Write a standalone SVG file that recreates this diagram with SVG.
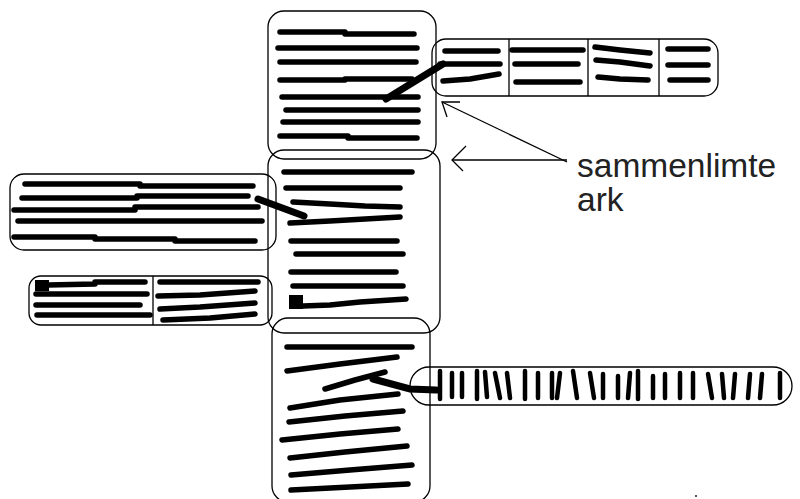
<svg xmlns="http://www.w3.org/2000/svg" width="800" height="499" viewBox="0 0 800 499">
<style>
.sheet{fill:none;stroke:#000;stroke-width:1.3}
.div{stroke:#000;stroke-width:1.3}
.tl{fill:none;stroke:#000;stroke-width:5.5;stroke-linecap:round;stroke-linejoin:round}
.vm{fill:none;stroke:#000;stroke-width:4.5;stroke-linecap:round}
.glue{fill:none;stroke:#000;stroke-width:7;stroke-linecap:round}
.arr{fill:none;stroke:#000;stroke-width:1.3}
.lbl{font-family:"Liberation Sans",Arial,sans-serif;font-size:33.5px;fill:#222}
</style>
<rect width="800" height="499" fill="#fff"/>
<g id="sheet-top">
<rect class="sheet" x="268" y="11" width="168" height="148" rx="16"/>
<path class="tl" d="M280 32 H345 V34 H414"/>
<path class="tl" d="M278 48 H417"/>
<path class="tl" d="M280 62 H416"/>
<path class="tl" d="M280 80 H345 V79 H412"/>
<path class="tl" d="M282 97 H418"/>
<path class="tl" d="M286 110 H418"/>
<path class="tl" d="M283 122 H418"/>
<path class="tl" d="M280 136 H348 V138 H417"/>
</g>
<g id="sheet-top-right">
<rect class="sheet" x="432" y="39" width="286" height="57" rx="14"/>
<line class="div" x1="509" y1="39" x2="509" y2="96"/>
<line class="div" x1="588" y1="39" x2="588" y2="96"/>
<line class="div" x1="659" y1="39" x2="659" y2="96"/>
<path class="tl" d="M445 51 H498"/>
<path class="tl" d="M440 64 H500"/>
<path class="tl" d="M443 81 L470 79 L499 74"/>
<path class="tl" d="M512 50 H583"/>
<path class="tl" d="M515 64 H578"/>
<path class="tl" d="M516 82 H580"/>
<path class="tl" d="M595 47 L620 50 L650 53"/>
<path class="tl" d="M596 60 L620 62 L650 66"/>
<path class="tl" d="M598 77 L620 79 L648 80"/>
<path class="tl" d="M668 49 H708"/>
<path class="tl" d="M668 65 H708"/>
<path class="tl" d="M670 80 H708"/>
</g>
<g id="sheet-middle">
<rect class="sheet" x="268" y="150" width="172" height="183" rx="16"/>
<path class="tl" d="M284 172 H412"/>
<path class="tl" d="M286 188 H400"/>
<path class="tl" d="M293 202 L330 204 L365 206 L400 207"/>
<path class="tl" d="M290 223 L330 221 L365 219 L400 217"/>
<path class="tl" d="M291 241 H397"/>
<path class="tl" d="M296 254 H403"/>
<path class="tl" d="M291 272 H396"/>
<path class="tl" d="M293 286 H403"/>
<path class="tl" d="M303 306 L330 305 L360 302 L406 299"/>
<rect x="289" y="295" width="14" height="14" fill="#000"/>
</g>
<g id="sheet-bottom">
<rect class="sheet" x="272" y="318" width="158" height="184" rx="16"/>
<path class="tl" d="M287 347 H412"/>
<path class="tl" d="M287 371 L340 364 L397 357"/>
<path class="tl" d="M325 389 L355 380 L385 372"/>
<path class="tl" d="M290 408 L340 400 L398 394"/>
<path class="tl" d="M289 422 L345 416 L403 411"/>
<path class="tl" d="M282 440 L340 434 L398 429"/>
<path class="tl" d="M290 458 L345 452 L407 446"/>
<path class="tl" d="M291 475 L350 470 L412 465"/>
<path class="tl" d="M291 490 L350 487 L408 484"/>
</g>
<g id="sheet-left">
<rect class="sheet" x="10" y="174" width="266" height="76" rx="14"/>
<path class="tl" d="M25 184 H140 V186 H253"/>
<path class="tl" d="M22 198 H137 V196 H248"/>
<path class="tl" d="M14 210 H135 V207 H258"/>
<path class="tl" d="M18 221 H262"/>
<path class="tl" d="M14 237 H95 V239 H175 V241 H255"/>
</g>
<g id="sheet-left-small">
<rect class="sheet" x="29" y="276" width="243" height="49" rx="12"/>
<line class="div" x1="153" y1="276" x2="153" y2="325"/>
<rect x="35" y="280" width="14" height="11" fill="#000"/>
<path class="tl" d="M48 285 L95 284 V282 H145"/>
<path class="tl" d="M36 294 H147"/>
<path class="tl" d="M36 305 H140"/>
<path class="tl" d="M37 315 H150"/>
<path class="tl" d="M160 282 H258"/>
<path class="tl" d="M158 296 L200 295 L255 291"/>
<path class="tl" d="M160 309 L200 307 L255 303"/>
<path class="tl" d="M163 320 L210 318 L255 314"/>
</g>
<g id="sheet-bottom-right">
<rect class="sheet" x="410" y="367" width="382" height="38" rx="19"/>
<path class="vm" d="M440 371 V399 M452 373 V397 M462 373 V397 M477 371 V399 M485 372 L487 397 M495 373 L500 398 M507 373 L510 398 M525 371 V399 M538 373 V398 M552 373 V398 M560 373 L557 398 M573 371 L577 398 M590 373 L594 398 M603 374 V398 M618 376 V398 M630 373 L628 398 M638 371 V399 M653 376 V398 M665 374 V398 M680 373 V398 M693 373 V398 M708 374 L712 398 M722 374 L724 398 M735 374 L733 398 M750 374 L748 398 M762 374 L760 398 M780 373 V398"/>
</g>
<g id="connectors">
<line class="glue" x1="386" y1="99" x2="443" y2="64"/>
<line class="glue" x1="258" y1="199" x2="304" y2="216"/>
<path class="glue" d="M373 379 L410 389 L436 390"/>
<line class="arr" x1="567" y1="162" x2="442" y2="102"/>
<path class="arr" d="M460 102 H442 L447 117"/>
<line class="arr" x1="567" y1="160" x2="452" y2="160"/>
<path class="arr" d="M466 146 L452 160 L463 171"/>
</g>
<g id="label">
<text class="lbl" x="577" y="177">sammenlimte</text>
<text class="lbl" x="577" y="211">ark</text>
</g>
<rect x="695" y="495" width="2" height="2" fill="#555"/>
</svg>
